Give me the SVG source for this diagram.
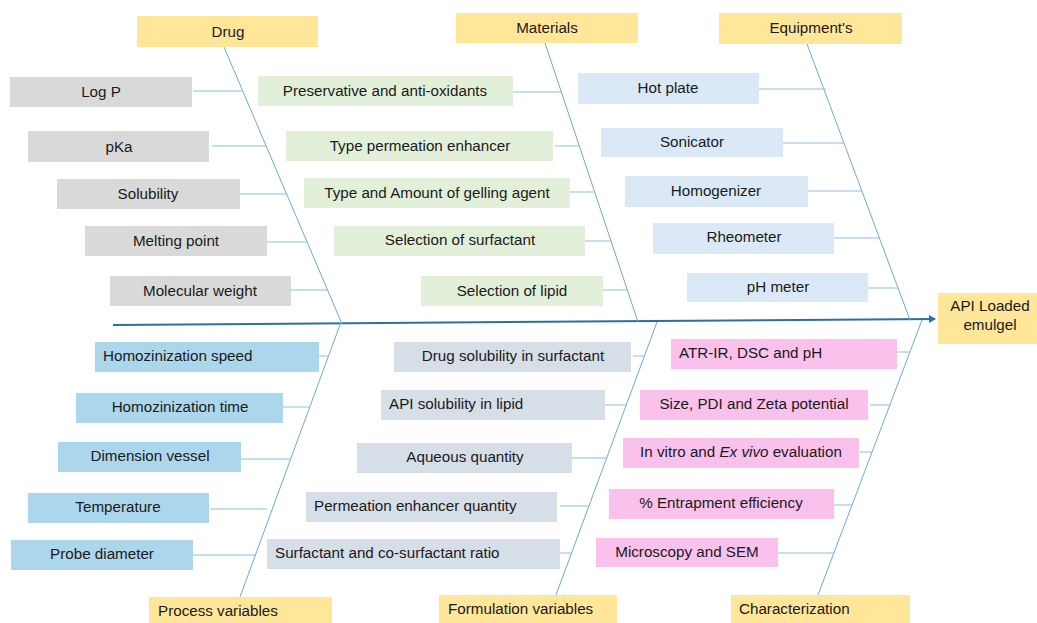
<svg xmlns="http://www.w3.org/2000/svg" width="1037" height="623" viewBox="0 0 1037 623">
<defs>
<style>
text{font-family:"Liberation Sans",Arial,sans-serif;font-size:15.2px;fill:#1a1a1a;}
.c{text-anchor:middle;}
.hd{fill:#ffe699;}
.gr{fill:#d9d9d9;}
.gn{fill:#e2f0d9;}
.eq{fill:#dbe9f6;}
.pv{fill:#acd6ec;}
.fv{fill:#d6dee8;}
.ch{fill:#f9c1ec;}
.bone{stroke:#6fa8d6;stroke-width:1;fill:none;}
.rib{stroke:#8dbde3;stroke-width:1;fill:none;}
.spine{stroke:#2e6fa0;stroke-width:2;fill:none;}
</style>
<marker id="arr" markerWidth="8" markerHeight="8" refX="6" refY="4" orient="auto" markerUnits="userSpaceOnUse">
<path d="M0,0 L7,4 L0,8 z" fill="#2e6fa0"/>
</marker>
</defs>
<rect width="1037" height="623" fill="#ffffff"/>

<g id="connectors">
<line class="spine" x1="113" y1="325" x2="935" y2="319" marker-end="url(#arr)"/>
<line class="bone" x1="224" y1="47" x2="342" y2="324"/>
<line class="bone" x1="545" y1="43" x2="638" y2="322"/>
<line class="bone" x1="807" y1="44" x2="910" y2="320"/>
<line class="bone" x1="341" y1="322" x2="240" y2="597"/>
<line class="bone" x1="657" y1="322" x2="556" y2="595"/>
<line class="bone" x1="922" y1="320" x2="818" y2="595"/>
<line class="rib" x1="193" y1="91" x2="243" y2="91"/>
<line class="rib" x1="212" y1="146" x2="266" y2="146"/>
<line class="rib" x1="240" y1="194" x2="287" y2="194"/>
<line class="rib" x1="267" y1="242" x2="307" y2="242"/>
<line class="rib" x1="291" y1="290" x2="327" y2="290"/>
<line class="rib" x1="513" y1="92" x2="561" y2="92"/>
<line class="rib" x1="555" y1="146" x2="579" y2="146"/>
<line class="rib" x1="570" y1="192" x2="595" y2="192"/>
<line class="rib" x1="585" y1="241" x2="611" y2="241"/>
<line class="rib" x1="603" y1="290" x2="627" y2="290"/>
<line class="rib" x1="759" y1="89" x2="826" y2="89"/>
<line class="rib" x1="783" y1="143" x2="844" y2="143"/>
<line class="rib" x1="808" y1="191" x2="862" y2="191"/>
<line class="rib" x1="834" y1="238" x2="879" y2="238"/>
<line class="rib" x1="868" y1="288" x2="898" y2="288"/>
<line class="rib" x1="319" y1="356" x2="329" y2="356"/>
<line class="rib" x1="283" y1="407" x2="310" y2="407"/>
<line class="rib" x1="241" y1="459" x2="291" y2="459"/>
<line class="rib" x1="210" y1="509" x2="267" y2="509"/>
<line class="rib" x1="193" y1="555" x2="255" y2="555"/>
<line class="rib" x1="633" y1="356" x2="644" y2="356"/>
<line class="rib" x1="605" y1="405" x2="626" y2="405"/>
<line class="rib" x1="572" y1="458" x2="607" y2="458"/>
<line class="rib" x1="560" y1="506" x2="589" y2="506"/>
<line class="rib" x1="560" y1="553" x2="571" y2="553"/>
<line class="rib" x1="897" y1="352" x2="910" y2="352"/>
<line class="rib" x1="870" y1="405" x2="890" y2="405"/>
<line class="rib" x1="860" y1="452" x2="872" y2="452"/>
<line class="rib" x1="833" y1="505" x2="852" y2="505"/>
<line class="rib" x1="778" y1="553" x2="834" y2="553"/>
</g>

<g id="drug"><rect class="hd" x="137" y="16" width="181" height="31"/><text class="c" x="228" y="37">Drug</text></g>
<g id="materials"><rect class="hd" x="456" y="13" width="182" height="30"/><text class="c" x="547" y="33">Materials</text></g>
<g id="equipments"><rect class="hd" x="719" y="13" width="183" height="31"/><text class="c" x="811" y="33">Equipment's</text></g>
<g id="api"><rect class="hd" x="938" y="293" width="99" height="51"/><text class="c" x="990" y="311">API Loaded</text><text class="c" x="990" y="330">emulgel</text></g>
<g id="process"><rect class="hd" x="149" y="597" width="183" height="26"/><text x="158" y="616">Process variables</text></g>
<g id="formulation"><rect class="hd" x="439" y="595" width="178" height="28"/><text x="448" y="614">Formulation variables</text></g>
<g id="characterization"><rect class="hd" x="731" y="595" width="179" height="28"/><text x="739" y="614">Characterization</text></g>

<g id="logp"><rect class="gr" x="10" y="77" width="182" height="30"/><text class="c" x="101" y="97">Log P</text></g>
<g id="pka"><rect class="gr" x="28" y="131" width="181" height="31"/><text class="c" x="119" y="152">pKa</text></g>
<g id="solubility"><rect class="gr" x="57" y="179" width="183" height="30"/><text class="c" x="148" y="199">Solubility</text></g>
<g id="melting"><rect class="gr" x="85" y="226" width="182" height="30"/><text class="c" x="176" y="246">Melting point</text></g>
<g id="molweight"><rect class="gr" x="110" y="276" width="181" height="30"/><text class="c" x="200" y="296">Molecular weight</text></g>

<g id="preservative"><rect class="gn" x="258" y="76" width="255" height="30"/><text class="c" x="385" y="96">Preservative and anti-oxidants</text></g>
<g id="permenh"><rect class="gn" x="286" y="131" width="267" height="30"/><text class="c" x="420" y="151">Type permeation enhancer</text></g>
<g id="gelling"><rect class="gn" x="304" y="178" width="266" height="30"/><text class="c" x="437" y="198">Type and Amount of gelling agent</text></g>
<g id="surfactant"><rect class="gn" x="334" y="226" width="251" height="30"/><text class="c" x="460" y="245">Selection of surfactant</text></g>
<g id="lipid"><rect class="gn" x="421" y="276" width="182" height="30"/><text class="c" x="512" y="296">Selection of lipid</text></g>

<g id="hotplate"><rect class="eq" x="578" y="73" width="181" height="31"/><text class="c" x="668" y="93">Hot plate</text></g>
<g id="sonicator"><rect class="eq" x="601" y="128" width="182" height="29"/><text class="c" x="692" y="147">Sonicator</text></g>
<g id="homogenizer"><rect class="eq" x="625" y="176" width="183" height="31"/><text class="c" x="716" y="196">Homogenizer</text></g>
<g id="rheometer"><rect class="eq" x="653" y="223" width="181" height="31"/><text class="c" x="744" y="242">Rheometer</text></g>
<g id="phmeter"><rect class="eq" x="687" y="273" width="181" height="29"/><text class="c" x="778" y="292">pH meter</text></g>

<g id="hspeed"><rect class="pv" x="95" y="342" width="224" height="30"/><text x="103" y="361">Homozinization speed</text></g>
<g id="htime"><rect class="pv" x="76" y="393" width="207" height="30"/><text class="c" x="180" y="412">Homozinization time</text></g>
<g id="vessel"><rect class="pv" x="58" y="442" width="183" height="30"/><text class="c" x="150" y="461">Dimension vessel</text></g>
<g id="temperature"><rect class="pv" x="28" y="493" width="181" height="30"/><text class="c" x="118" y="512">Temperature</text></g>
<g id="probe"><rect class="pv" x="11" y="540" width="182" height="30"/><text class="c" x="102" y="559">Probe diameter</text></g>

<g id="drugsol"><rect class="fv" x="394" y="342" width="237" height="30"/><text class="c" x="513" y="361">Drug solubility in surfactant</text></g>
<g id="apisol"><rect class="fv" x="381" y="390" width="224" height="30"/><text x="389" y="409">API solubility in lipid</text></g>
<g id="aqueous"><rect class="fv" x="357" y="443" width="215" height="30"/><text class="c" x="465" y="462">Aqueous quantity</text></g>
<g id="permqty"><rect class="fv" x="306" y="492" width="251" height="30"/><text x="314" y="511">Permeation enhancer quantity</text></g>
<g id="ratio"><rect class="fv" x="267" y="539" width="293" height="30"/><text x="275" y="558">Surfactant and co-surfactant ratio</text></g>

<g id="atr"><rect class="ch" x="671" y="339" width="226" height="30"/><text x="679" y="358">ATR-IR, DSC and pH</text></g>
<g id="size"><rect class="ch" x="640" y="390" width="228" height="30"/><text class="c" x="754" y="409">Size, PDI and Zeta potential</text></g>
<g id="invitro"><rect class="ch" x="623" y="438" width="236" height="30"/><text class="c" x="741" y="457">In vitro and <tspan font-style="italic">Ex vivo</tspan> evaluation</text></g>
<g id="entrapment"><rect class="ch" x="609" y="489" width="225" height="30"/><text class="c" x="721" y="508">% Entrapment efficiency</text></g>
<g id="microscopy"><rect class="ch" x="596" y="538" width="182" height="29"/><text class="c" x="687" y="557">Microscopy and SEM</text></g>
</svg>
